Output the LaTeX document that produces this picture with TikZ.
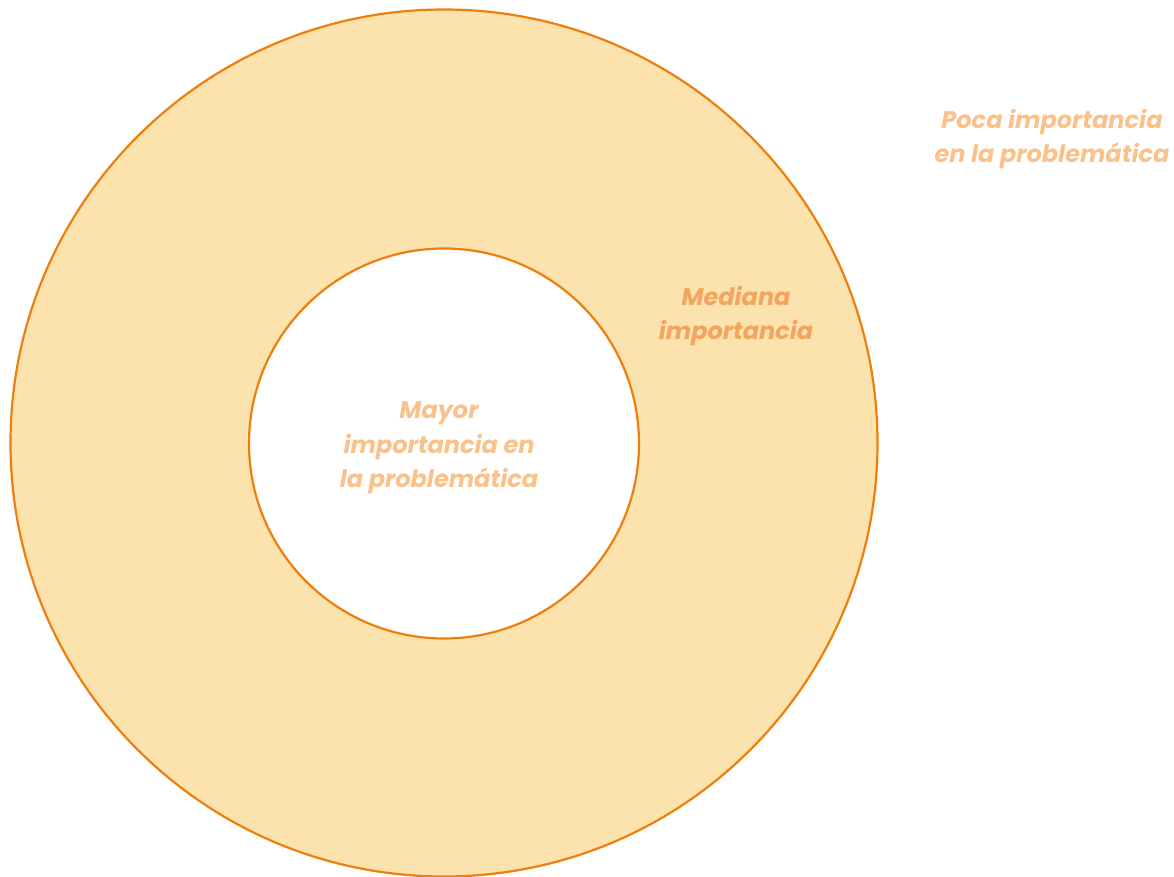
\documentclass[tikz,border=0pt]{standalone}
\usepackage{fontspec}
\setmainfont{Poppins}
\definecolor{ringfill}{HTML}{FCE2AC}
\definecolor{ringline}{HTML}{EE7F0E}
\definecolor{txtmid}{HTML}{F3A45F}
\definecolor{txtlight}{HTML}{FBC18B}
\tikzset{
  ring/.style={draw=ringline, line width=2.2pt},
  lbl/.style={align=center, font=\fontsize{24}{34.5}\selectfont\bfseries\itshape, inner sep=0pt},
}
\begin{document}
\begin{tikzpicture}[x=1pt,y=-1pt]
\useasboundingbox (0,0) rectangle (1174,877);
\node[ring, circle, fill=ringfill, minimum size=867pt, inner sep=0pt] (outer) at (444,443) {};
\node[ring, circle, fill=white, minimum size=390pt, inner sep=0pt] (inner) at (444,443.5) {};
\node[lbl, text=txtlight] (mayor) at (439,448) {Mayor\\importancia en\\la problemática};
\node[lbl, text=txtmid] (mediana) at (736,316) {Mediana\\importancia};
\node[lbl, text=txtlight] (poca) at (1052,139) {Poca importancia\\en la problemática};
\end{tikzpicture}
\end{document}
